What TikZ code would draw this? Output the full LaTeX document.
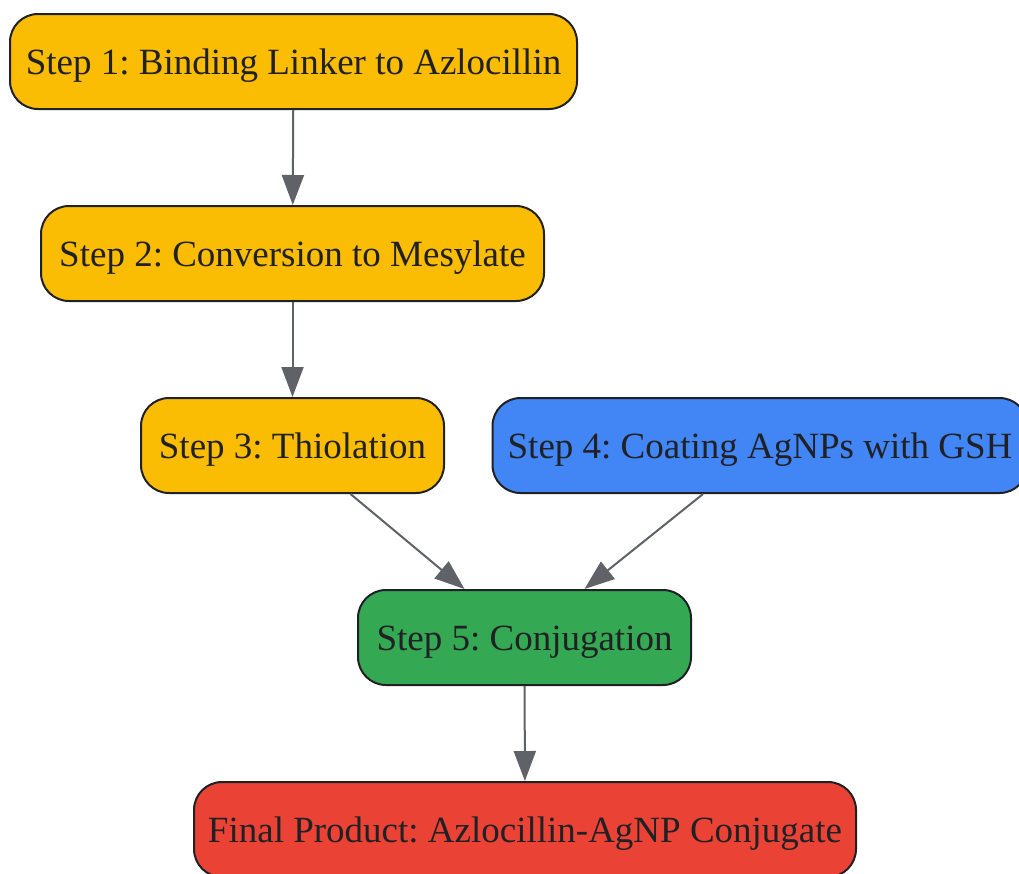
\documentclass[tikz,border=0pt]{standalone}
\usepackage{fontspec}
\setmainfont{Liberation Serif}
\usetikzlibrary{arrows.meta}
\definecolor{cyellow}{HTML}{FBBC04}
\definecolor{cblue}{HTML}{4285F4}
\definecolor{cgreen}{HTML}{34A853}
\definecolor{cred}{HTML}{EA4335}
\definecolor{ctext}{HTML}{202124}
\definecolor{cedge}{HTML}{5F6368}
\frenchspacing
\begin{document}
\begin{tikzpicture}[x=1pt,y=-1pt,
  box/.style={draw=ctext, line width=2pt, rounded corners=28pt,
    minimum height=95pt, inner xsep=10pt, inner ysep=0pt,
    text height=25pt, text depth=0pt, text=ctext,
    font=\fontsize{37}{44}\selectfont},
  conn/.style={draw=cedge, line width=2pt, -{Triangle[length=30pt,width=22pt]}}]
\useasboundingbox (0,0) rectangle (1019,873);
\node[box, fill=cyellow, minimum width=567pt] (n1) at (293.5,61.5) {Step 1: Binding Linker to Azlocillin};
\node[box, fill=cyellow, minimum width=503pt] (n2) at (292.5,253.5) {Step 2: Conversion to Mesylate};
\node[box, fill=cyellow, minimum width=303pt] (n3) at (292.5,445.5) {Step 3: Thiolation};
\node[box, fill=cblue, minimum width=535pt] (n4) at (760,445.5) {Step 4: Coating AgNPs with GSH};
\node[box, fill=cgreen, minimum width=333pt] (n5) at (524.5,637.5) {Step 5: Conjugation};
\node[box, fill=cred, minimum width=662pt] (n6) at (525,829.5) {Final Product: Azlocillin-AgNP Conjugate};
\draw[conn] (n1) -- (n2);
\draw[conn] (n2) -- (n3);
\draw[conn] ([xshift=58pt]n3.south) -- ([xshift=-60pt]n5.north);
\draw[conn] ([xshift=-57pt]n4.south) -- ([xshift=60pt]n5.north);
\draw[conn] (n5) -- (n6);
\end{tikzpicture}
\end{document}
